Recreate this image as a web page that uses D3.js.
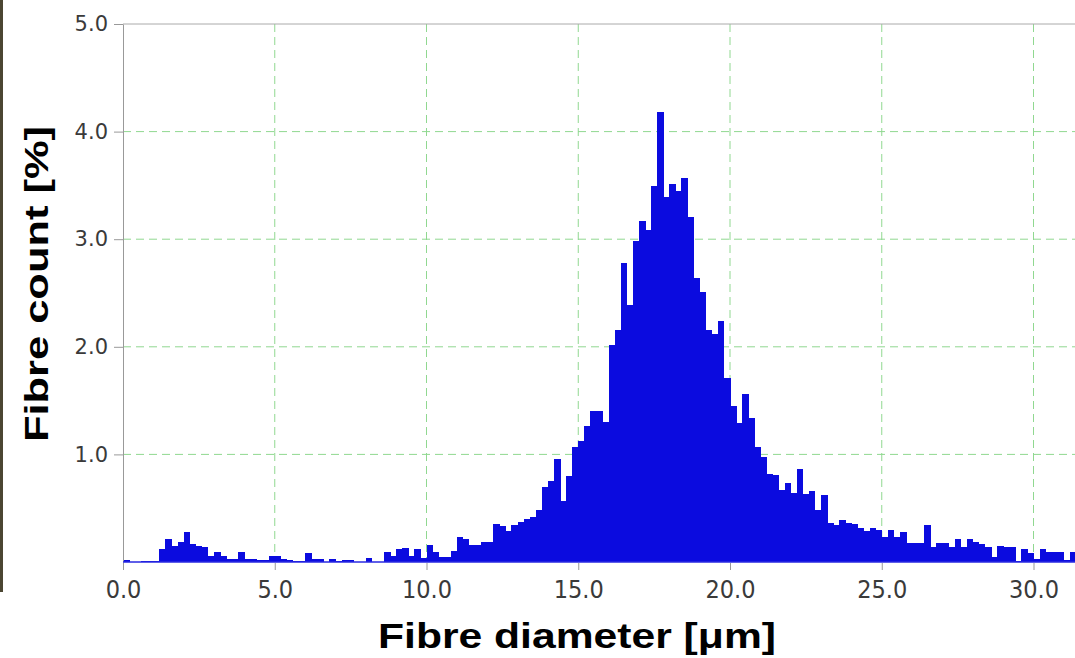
<!DOCTYPE html>
<html>
<head>
<meta charset="utf-8">
<title>Fibre diameter histogram</title>
<script src="https://cdn.jsdelivr.net/npm/d3@7/dist/d3.min.js"></script>
<style>
body { margin:0; background:#fff; }
.grid line { stroke:#90d890; stroke-width:1; stroke-dasharray:8,5; }
.yaxis text { font-family:"DejaVu Sans",sans-serif; font-size:21px; fill:#3a3a3a; }
.xaxis text { font-family:"Liberation Sans Narrow","DejaVu Sans Condensed",sans-serif; font-size:25px; fill:#3a3a3a; }
.yaxis path, .yaxis line, .xaxis path, .xaxis line { stroke:#999; }
.title { font-family:"Liberation Sans",Arial,sans-serif; font-weight:bold; fill:#000; }
</style>
</head>
<body>
<script>
// histogram, bin width 0.2 um, starting at 0.0
var binWidth = 0.2;
var counts = [
  0.02, 0, 0, 0.01, 0.01, 0.01, 0.12, 0.21, 0.15, 0.19,
  0.28, 0.17, 0.15, 0.14, 0.06, 0.09, 0.06, 0.03, 0.03, 0.09,
  0.03, 0.03, 0.015, 0.015, 0.06, 0.06, 0.03, 0.015, 0.01, 0.01,
  0.08, 0.03, 0.03, 0, 0.03, 0.01, 0.02, 0.02, 0, 0,
  0.04, 0, 0, 0.09, 0.06, 0.12, 0.13, 0.06, 0.12, 0.04,
  0.16, 0.09, 0.05, 0.05, 0.10, 0.23, 0.21, 0.16, 0.16, 0.19,
  0.19, 0.35, 0.33, 0.29, 0.34, 0.37, 0.40, 0.42, 0.48, 0.70,
  0.75, 0.96, 0.57, 0.80, 1.07, 1.12, 1.26, 1.40, 1.40, 1.30,
  2.02, 2.16, 2.78, 2.39, 2.98, 3.17, 3.09, 3.49, 4.18, 3.39,
  3.51, 3.45, 3.57, 3.21, 2.64, 2.51, 2.16, 2.12, 2.24, 1.71,
  1.45, 1.29, 1.56, 1.34, 1.07, 0.98, 0.82, 0.81, 0.67, 0.73,
  0.64, 0.86, 0.63, 0.66, 0.48, 0.62, 0.36, 0.34, 0.39, 0.36,
  0.35, 0.32, 0.29, 0.32, 0.30, 0.23, 0.30, 0.23, 0.28, 0.18,
  0.18, 0.18, 0.34, 0.14, 0.18, 0.18, 0.14, 0.21, 0.14, 0.21,
  0.19, 0.17, 0.14, 0.05, 0.15, 0.14, 0.14, 0.01, 0.12, 0.08,
  0.03, 0.12, 0.09, 0.09, 0.09, 0.02, 0.09
];
var xTicks = [0, 5, 10, 15, 20, 25, 30];
var yTicks = [1, 2, 3, 4, 5];

var W = 1075, H = 658;
var svg = d3.select("body").append("svg").attr("width", W).attr("height", H);

var x = d3.scaleLinear().domain([0, 31.4]).range([123, 1076]);
var y = d3.scaleLinear().domain([0, 5]).range([562, 24]);

// stray edge from the neighbouring picture
svg.append("rect").attr("x", 0).attr("y", 0).attr("width", 3).attr("height", 592).attr("fill", "#4b4632");

// grid
var grid = svg.append("g").attr("class", "grid");
grid.selectAll(".gx").data(xTicks.filter(function(d){ return d > 0; })).enter().append("line")
  .attr("x1", function(d){ return x(d); }).attr("x2", function(d){ return x(d); })
  .attr("y1", y(5)).attr("y2", y(0));
grid.selectAll(".gy").data(yTicks.filter(function(d){ return d < 5; })).enter().append("line")
  .attr("x1", x(0)).attr("x2", W)
  .attr("y1", function(d){ return y(d); }).attr("y2", function(d){ return y(d); });
svg.append("line").attr("x1", x(0)).attr("x2", W).attr("y1", y(5)).attr("y2", y(5)).attr("stroke", "#aaa");

// bars
var bars = counts.map(function(v, i){ return { x0: i * binWidth, v: v }; });
svg.append("g").attr("shape-rendering", "crispEdges").selectAll("rect").data(bars).enter().append("rect")
  .attr("x", function(d){ return x(d.x0); })
  .attr("width", x(binWidth) - x(0) + 0.5)
  .attr("y", function(d){ return y(d.v); })
  .attr("height", function(d){ return y(0) - y(d.v); })
  .attr("fill", "#0b0bdf");

// axes
svg.append("g").attr("class", "yaxis").attr("transform", "translate(" + x(0) + ",0)")
  .call(d3.axisLeft(y).tickValues(yTicks).tickFormat(d3.format(".1f")).tickSize(9).tickPadding(6).tickSizeOuter(0));
svg.append("g").attr("class", "xaxis").attr("transform", "translate(0," + (y(0) + 1) + ")")
  .call(d3.axisBottom(x).tickValues(xTicks).tickFormat(d3.format(".1f")).tickSize(7).tickPadding(10).tickSizeOuter(0))
  .select(".domain").remove();
svg.append("line").attr("x1", x(0)).attr("x2", W).attr("y1", y(0)).attr("y2", y(0))
  .attr("stroke", "#2a2ae0").attr("stroke-width", 1.5);

// titles
svg.append("text").attr("class", "title")
  .attr("transform", "translate(48,284) rotate(-90)")
  .attr("text-anchor", "middle").attr("font-size", 33)
  .attr("textLength", 316).attr("lengthAdjust", "spacingAndGlyphs")
  .text("Fibre count [%]");
svg.append("text").attr("class", "title")
  .attr("x", 577).attr("y", 648)
  .attr("text-anchor", "middle").attr("font-size", 35)
  .attr("textLength", 398).attr("lengthAdjust", "spacingAndGlyphs")
  .text("Fibre diameter [μm]");
</script>
</body>
</html>
